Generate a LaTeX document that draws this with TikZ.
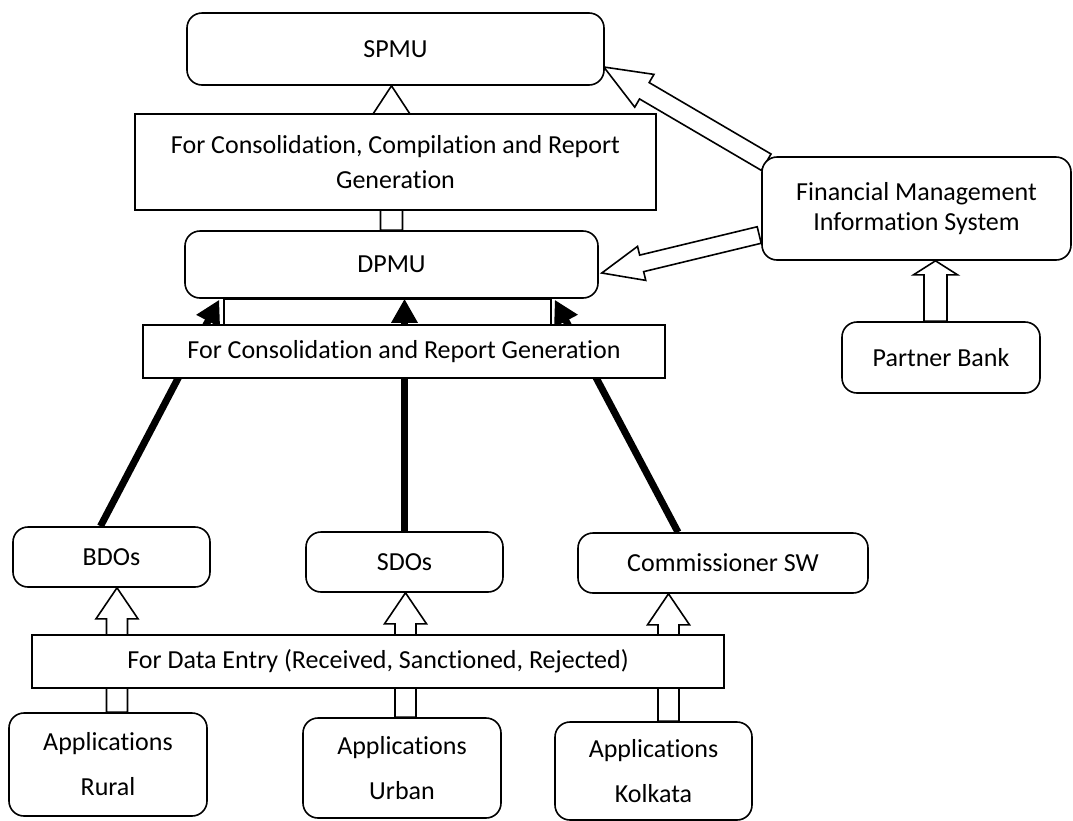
\documentclass[tikz,border=0pt]{standalone}
\usepackage{fontspec}
\setmainfont{Carlito}[RawFeature={-liga}]
\usetikzlibrary{calc,arrows.meta}

\pgfdeclarelayer{under}
\pgfsetlayers{under,main}

\tikzset{
  box/.style={draw, line width=1.6pt, fill=white, inner sep=0pt, align=center,
              font=\fontsize{26}{31}\selectfont},
  rbox/.style={box, rounded corners=15pt},
  hollow/.style={draw, line width=1.6pt, fill=white, line join=miter},
  boldarrow/.style={line width=7pt, -{Triangle[width=25pt,length=24pt]}},
}

% hollow block arrow: #1 tail, #2 tip, #3 shaft half width, #4 head half width, #5 head length
\newcommand\blockarrow[5]{%
  \coordinate (babase) at ($(#2)!#5!(#1)$);
  \draw[hollow] ($(#1)!#3!90:(#2)$) -- ($(babase)!#3!90:(#2)$) -- ($(babase)!#4!90:(#2)$)
    -- (#2) -- ($(babase)!#4!-90:(#2)$) -- ($(babase)!#3!-90:(#2)$) -- ($(#1)!#3!-90:(#2)$) -- cycle;
}

\begin{document}
\begin{tikzpicture}[x=1pt,y=-1pt]
\useasboundingbox (0,0) rectangle (1073,820);

% top level
\node[rbox, minimum width=417pt, minimum height=72pt] (spmu) at (395.5,49) {SPMU};
\node[box, minimum width=521pt, minimum height=96pt, font=\fontsize{26}{35}\selectfont] (cons1) at (395.5,162)
  {For Consolidation, Compilation and Report\\Generation};
\node[rbox, minimum width=413pt, minimum height=67pt] (dpmu) at (391.5,264.5) {DPMU};
\node[box, minimum width=522pt, minimum height=53pt] (cons2) at (404,351.5)
  {For Consolidation and Report Generation};

% right side
\node[rbox, minimum width=309pt, minimum height=103pt, font=\fontsize{26}{30}\selectfont] (fmis) at (916.5,208.5)
  {Financial Management\\Information System};
\node[rbox, minimum width=198pt, minimum height=71pt] (bank) at (941,357.5) {Partner Bank};

% offices
\node[rbox, minimum width=197pt, minimum height=60pt] (bdo) at (111.5,557) {BDOs};
\node[rbox, minimum width=197pt, minimum height=60pt] (sdo) at (404.5,562) {SDOs};
\node[rbox, minimum width=290pt, minimum height=60pt] (comm) at (723,563) {Commissioner SW};

\node[box, minimum width=692pt, minimum height=53pt] (entry) at (378,661.5)
  {For Data Entry (Received, Sanctioned, Rejected)};

% applications
\node[rbox, minimum width=198pt, minimum height=103pt, font=\fontsize{26}{45}\selectfont] (rural) at (108,764.5)
  {Applications\\Rural};
\node[rbox, minimum width=198pt, minimum height=100pt, font=\fontsize{26}{45}\selectfont] (urban) at (402,768)
  {Applications\\Urban};
\node[rbox, minimum width=197pt, minimum height=98pt, font=\fontsize{26}{45}\selectfont] (kolkata) at (653.5,771)
  {Applications\\Kolkata};

\begin{pgfonlayer}{under}
  \fill[white] (0,0) rectangle (1073,820);

  % hollow block arrows
  \coordinate (t1) at (dpmu.north);
  \blockarrow{t1}{t1 |- spmu.south}{11pt}{19pt}{29pt}
  \coordinate (t2) at ($(rural.north)+(9,0)$);
  \blockarrow{t2}{t2 |- bdo.south}{10.5pt}{21pt}{31pt}
  \coordinate (t3) at ($(urban.north)+(3.5,0)$);
  \blockarrow{t3}{t3 |- sdo.south}{10.5pt}{21pt}{31pt}
  \coordinate (t4) at ($(kolkata.north)+(15,0)$);
  \blockarrow{t4}{t4 |- comm.south}{10.5pt}{21pt}{31pt}
  \coordinate (t5) at ($(bank.north)+(-5.5,0)$);
  \blockarrow{t5}{t5 |- fmis.south}{11.5pt}{22pt}{14pt}
  \coordinate (t6) at ($(fmis.north west)+(5,6)$);
  \coordinate (h6) at ($(spmu.east)+(-1,18)$);
  \blockarrow{t6}{h6}{9.5pt}{19pt}{47pt}
  \coordinate (t7) at ($(fmis.west)+(-2,26.5)$);
  \coordinate (h7) at ($(dpmu.east)+(3,8.5)$);
  \blockarrow{t7}{h7}{8.5pt}{17.5pt}{41pt}

  % reporting lines into DPMU
  \draw[boldarrow] ($(bdo.north)+(-11,0)$) -- ($(dpmu.south west)+(35,1)$);
  \draw[boldarrow] ($(comm.north)+(-45,0)$) -- ($(dpmu.south east)+(-44,1)$);
  \draw[line width=1.6pt, fill=white] ($(dpmu.south west)+(40,0)$) rectangle ($(dpmu.south west)+(367,27)$);
  \draw[boldarrow] (sdo.north) -- (sdo.north |- dpmu.south);
\end{pgfonlayer}
\end{tikzpicture}
\end{document}
